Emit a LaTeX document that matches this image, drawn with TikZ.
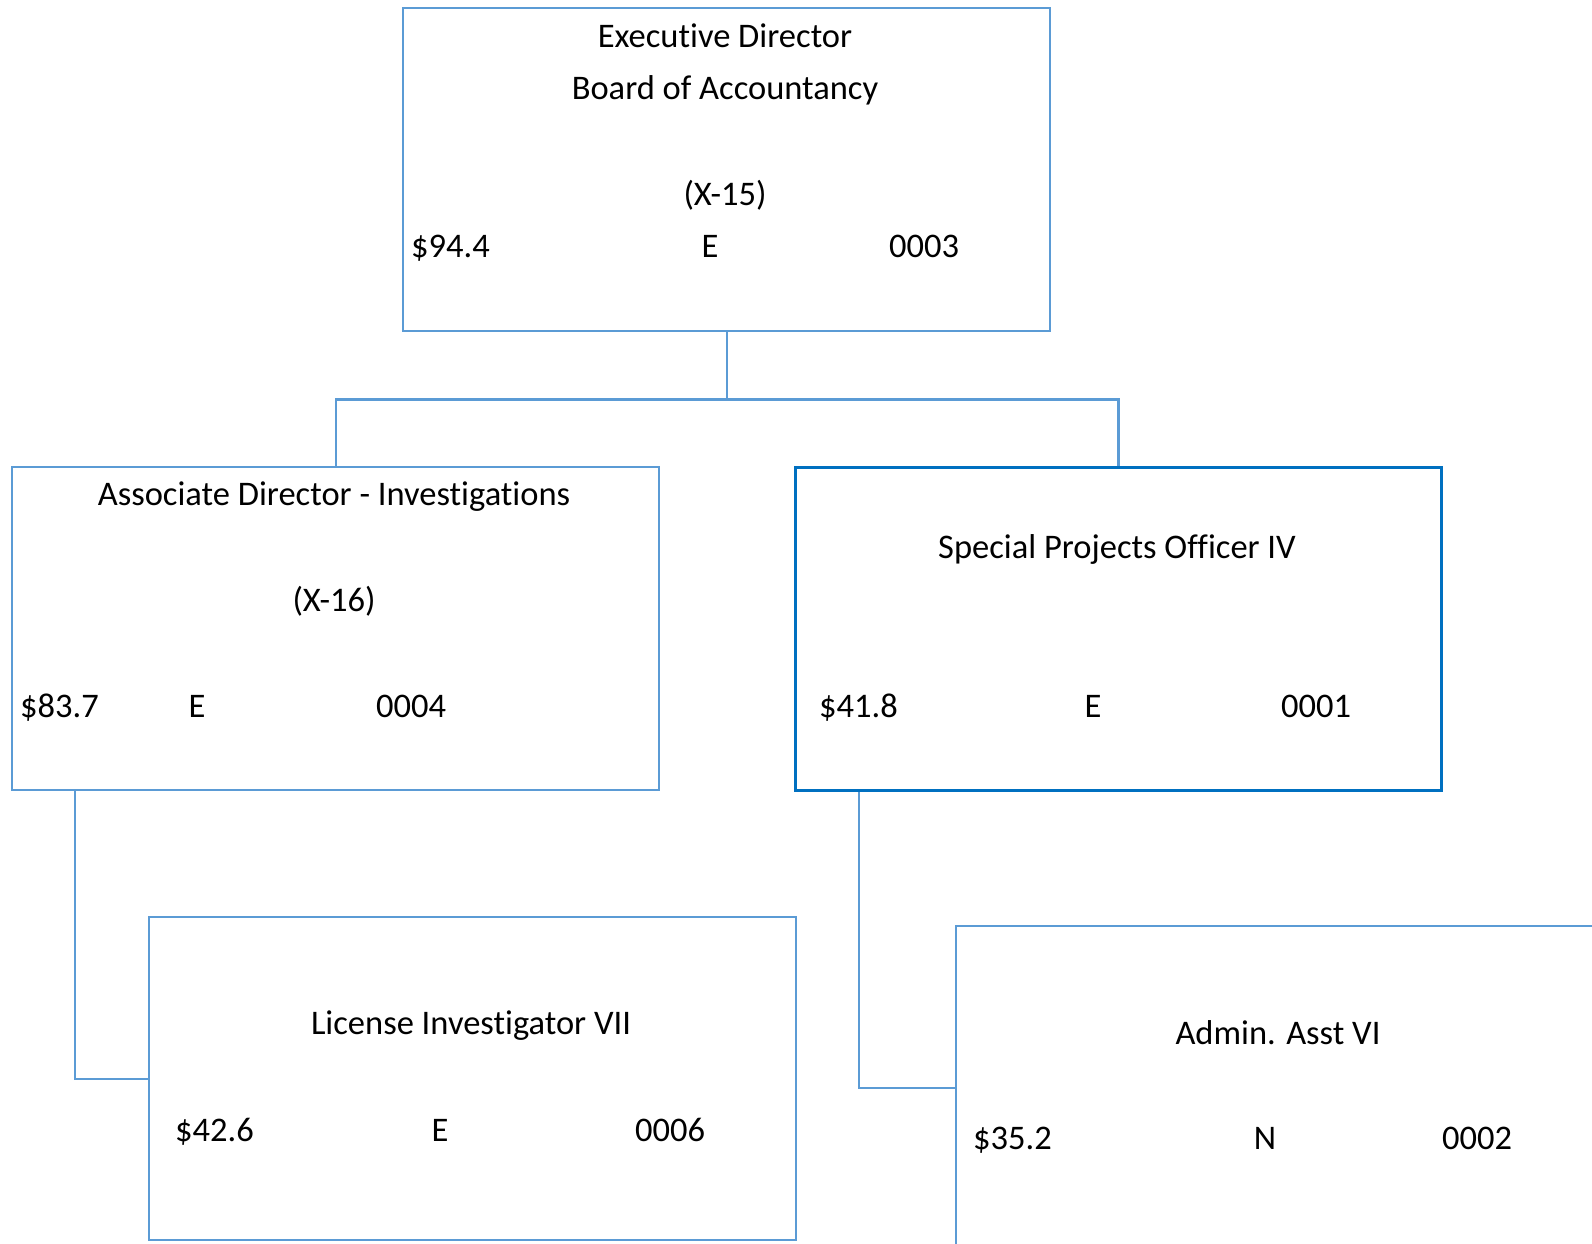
\documentclass[tikz,border=0pt]{standalone}
\usepackage{fontspec}
\setmainfont{Carlito}[Ligatures=NoCommon]
\usepackage{tikz}

\definecolor{lineblue}{HTML}{5B9BD5}
\definecolor{darkblue}{HTML}{0070C0}

\tikzset{
  post/.style={draw=lineblue, line width=2.4pt, anchor=north west, inner sep=0pt},
  link/.style={draw=lineblue, line width=2.4pt},
  txt/.style={font=\fontsize{34.5}{40}\selectfont, inner sep=0pt, anchor=mid},
  txtl/.style={txt, anchor=mid west}
}

\begin{document}
\begin{tikzpicture}[x=1pt, y=-1pt]
        \useasboundingbox (0,0) rectangle (1592,1244);
        \begin{scope}
        \clip (0,0) rectangle (1592,1244);
        % boxes
        \node[post, minimum width=647pt, minimum height=323pt] (exec) at (402,7) {};
        \node[post, minimum width=647pt, minimum height=323pt] (assoc) at (11,466) {};
        \node[post, draw=darkblue, line width=2.8pt, minimum width=646pt, minimum height=323pt] (spo) at (794,466) {};
        \node[post, minimum width=647pt, minimum height=323pt] (inv) at (148,916) {};
        \node[post, minimum width=647pt, minimum height=323pt] (asst) at (955,925) {};
        % connectors
        \draw[link] (exec.south) -- ++(0,67) coordinate (split);
        \draw[link] (assoc.north) |- (split) -| (spo.north);
        \draw[link] (assoc.south west) ++(64,0) coordinate (la) |- (inv.west);
        \draw[link] (spo.south west) ++(65,0) coordinate (ra) |- (asst.west);
        \end{scope}
        % texts
        \node[txt] (t1) at (725,45) {Executive Director};
        \node[txt] (t2) at (725,97) {Board of Accountancy};
        \node[txt] (t3) at (725,203) {(X-15)};
        \node[txtl] (t4) at (411,255) {\$94.4};
        \node[txt] (t5) at (710,255) {E};
        \node[txt] (t6) at (924,255) {0003};

        \node[txt] (a1) at (334,503) {Associate Director - Investigations};
        \node[txt] (a2) at (334,609) {(X-16)};
        \node[txtl] (a3) at (20,715) {\$83.7};
        \node[txt] (a4) at (197,715) {E};
        \node[txt] (a5) at (411,715) {0004};

        \node[txt] (s1) at (1117,556) {Special Projects Officer IV};
        \node[txtl] (s2) at (819,715) {\$41.8};
        \node[txt] (s3) at (1093,715) {E};
        \node[txt] (s4) at (1316,715) {0001};

        \node[txt] (i1) at (471,1032) {License Investigator VII};
        \node[txtl] (i2) at (175,1139) {\$42.6};
        \node[txt] (i3) at (440,1139) {E};
        \node[txt] (i4) at (670,1139) {0006};

        \node[txt] (d1) at (1278,1042) {Admin. Asst VI};
        \node[txtl] (d2) at (973,1147) {\$35.2};
        \node[txt] (d3) at (1265,1147) {N};
        \node[txt] (d4) at (1477,1147) {0002};
\end{tikzpicture}
\end{document}
